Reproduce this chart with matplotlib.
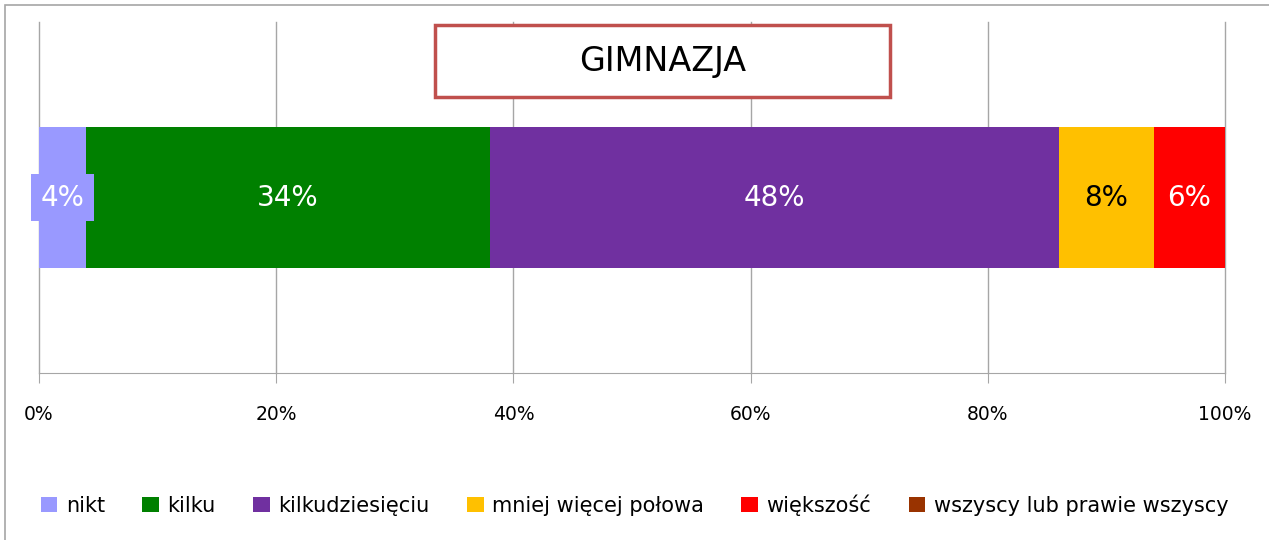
import matplotlib.pyplot as plt
from matplotlib.patches import Rectangle

# data
categories = ['nikt', 'kilku', 'kilkudziesięciu', 'mniej więcej połowa', 'większość',
              'wszyscy lub prawie wszyscy']
values = [4, 34, 48, 8, 6, 0]
colors = ['#9999FF', '#008000', '#7030A0', '#FFC000', '#FF0000', '#993300']
label_colors = ['white', 'white', 'white', 'black', 'white', 'white']
ticks = [0, 20, 40, 60, 80, 100]
tick_labels = ['0%', '20%', '40%', '60%', '80%', '100%']
title = 'GIMNAZJA'

plt.rcParams['font.family'] = ['DejaVu Sans']

W, H = 1269, 540
fig = plt.figure(figsize=(W / 100, H / 100), dpi=100)

# outer chart frame
fig.add_artist(Rectangle((5 / W, -0.01), 1.1, 1 - 5 / H + 0.01, transform=fig.transFigure,
                         fill=False, edgecolor='#A6A6A6', linewidth=1.2))

ax = fig.add_axes([39 / W, 1 - 373 / H, (1225 - 39) / W, (373 - 22) / H])

left = 0
for cat, val, col, lc in zip(categories, values, colors, label_colors):
    ax.barh(0, val, left=left, height=0.4, color=col, label=cat, zorder=3)
    if val > 0:
        bbox = None
        if cat == 'nikt':
            bbox = dict(boxstyle='square,pad=0.35', facecolor=col, edgecolor='none')
        ax.text(left + val / 2, 0, f'{val}%', ha='center', va='center', color=lc,
                fontsize=20, zorder=4, bbox=bbox)
    left += val

ax.set_xlim(0, 100)
ax.set_ylim(-0.5, 0.5)
ax.set_xticks(ticks)
ax.set_xticklabels(tick_labels, fontsize=13.5)
ax.set_yticks([])
ax.grid(axis='x', color='#A6A6A6', linewidth=1, zorder=0)
for gl in ax.get_xgridlines():
    gl.set_clip_on(False)
for s in ['top', 'right', 'left']:
    ax.spines[s].set_visible(False)
ax.spines['bottom'].set_color('#A6A6A6')
ax.tick_params(axis='x', length=7, color='#A6A6A6', pad=16)

# title box
bx0, by0, bx1, by1 = 435, 25, 890, 97
fig.add_artist(Rectangle((bx0 / W, 1 - by1 / H), (bx1 - bx0) / W, (by1 - by0) / H,
                         transform=fig.transFigure, facecolor='white',
                         edgecolor='#C0504D', linewidth=2.5, zorder=5))
fig.text((bx0 + bx1) / 2 / W, 1 - (by0 + by1) / 2 / H, title, ha='center', va='center',
         fontsize=24, zorder=6)

fig.legend(loc='center', bbox_to_anchor=(0.5, 1 - 505 / H), ncol=6, frameon=False,
           fontsize=15, handlelength=0.8, handleheight=0.8, handletextpad=0.4,
           columnspacing=1.8)

fig.savefig('out.png', dpi=100)
